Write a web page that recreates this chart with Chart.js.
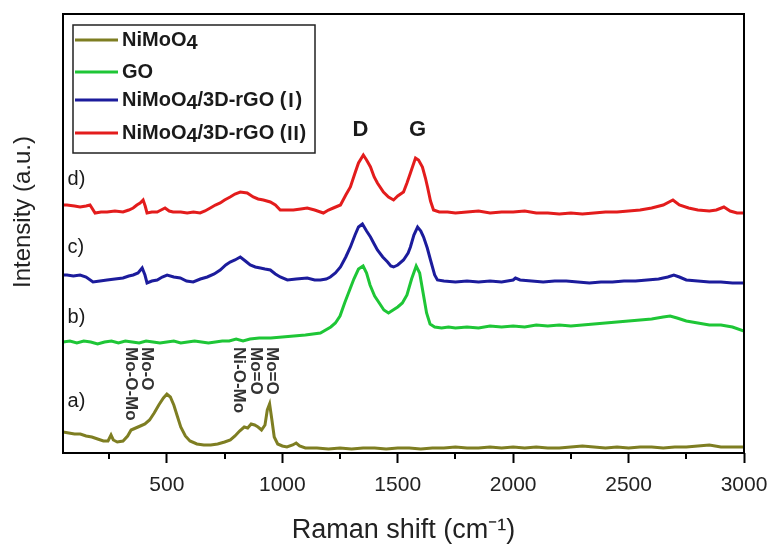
<!DOCTYPE html>
<html>
<head>
<meta charset="utf-8">
<title>Raman spectra</title>
<script src="https://cdn.jsdelivr.net/npm/chart.js@4.4.1/dist/chart.umd.min.js"></script>
<style>
    html, body { margin: 0; padding: 0; background: #fff; }
    canvas { display: block; }
</style>
</head>
<body>
<canvas id="ramanChart" width="773" height="544"></canvas>
<script>
// series names + colours (legend order)
const seriesNames = ['NiMoO4', 'GO', 'NiMoO4/3D-rGO (Ⅰ)', 'NiMoO4/3D-rGO (Ⅱ)'];
const seriesColors = ['#7e7e22', '#1ec636', '#1c1c9c', '#e31c1c'];

// a) NiMoO4
const shiftA = [50, 75, 100, 125, 150, 175, 200, 225, 245, 258, 268, 285, 310, 330, 345, 365, 385, 405, 425, 445,
    465, 485, 500, 515, 530, 545, 560, 580, 600, 630, 660, 690, 720, 750, 775, 795, 815, 835, 850, 865,
    880, 895, 910, 925, 935, 945, 955, 965, 980, 1000, 1020, 1045, 1060, 1075, 1100, 1150, 1200, 1250, 1300, 1350,
    1400, 1450, 1500, 1550, 1600, 1650, 1700, 1750, 1800, 1850, 1900, 1950, 2000, 2050, 2100, 2150, 2200, 2250, 2300, 2350,
    2400, 2450, 2500, 2550, 2600, 2650, 2700, 2750, 2800, 2850, 2900, 2950, 3000];
const intensityA = [21, 20, 19, 19, 17, 16, 14, 12, 12, 18, 13, 11, 12, 17, 23, 25, 27, 29, 33, 40,
    48, 55, 59, 56, 48, 37, 26, 17, 12, 9, 8, 8, 9, 11, 13, 17, 22, 26, 25, 29,
    28, 26, 23, 28, 43, 49, 33, 16, 9, 7, 6, 8, 10, 7, 5, 5, 4, 5, 4, 5,
    5, 4, 5, 5, 4, 5, 5, 6, 5, 5, 6, 5, 6, 5, 6, 5, 5, 6, 7, 6,
    5, 6, 5, 6, 6, 5, 6, 6, 7, 8, 6, 6, 6];

// b) GO
const shiftB = [50, 80, 110, 140, 170, 200, 230, 260, 290, 320, 350, 380, 410, 440, 470, 500, 530, 560, 590, 620,
    650, 680, 710, 740, 770, 800, 830, 860, 900, 950, 1000, 1050, 1100, 1165, 1210, 1230, 1250, 1270, 1290, 1310,
    1330, 1350, 1365, 1380, 1400, 1420, 1440, 1460, 1480, 1500, 1520, 1540, 1560, 1580, 1595, 1610, 1625, 1640, 1660, 1690,
    1720, 1750, 1800, 1850, 1900, 1950, 2000, 2050, 2100, 2150, 2200, 2250, 2300, 2350, 2400, 2450, 2500, 2550, 2600, 2650,
    2680, 2710, 2750, 2800, 2850, 2900, 2950, 3000];
const intensityB = [111, 112, 110, 112, 111, 109, 111, 112, 110, 112, 111, 110, 112, 111, 110, 111, 112, 110, 111, 112,
    111, 110, 111, 112, 112, 114, 112, 114, 115, 115, 116, 117, 118, 120, 126, 130, 137, 150, 162, 174,
    184, 187, 180, 168, 157, 150, 143, 140, 143, 146, 150, 158, 174, 187, 180, 160, 140, 129, 126, 125,
    126, 125, 126, 125, 127, 126, 127, 126, 128, 127, 128, 127, 128, 129, 130, 131, 132, 133, 134, 136,
    137, 135, 132, 130, 128, 128, 126, 122];

// c) NiMoO4/3D-rGO (I)
const shiftC = [50, 67, 95, 124, 150, 180, 210, 241, 275, 310, 335, 354, 375, 393, 405, 414, 435, 458, 480, 501,
    530, 558, 585, 614, 645, 675, 705, 731, 755, 774, 795, 818, 840, 861, 883, 905, 925, 948, 970, 991,
    1022, 1060, 1108, 1140, 1165, 1190, 1208, 1230, 1252, 1275, 1295, 1315, 1330, 1347, 1365, 1382, 1398, 1412, 1435, 1456,
    1470, 1482, 1500, 1525, 1545, 1555, 1570, 1586, 1600, 1612, 1628, 1642, 1660, 1672, 1700, 1750, 1800, 1850, 1900, 1950,
    2000, 2010, 2030, 2080, 2130, 2180, 2230, 2280, 2330, 2380, 2430, 2480, 2530, 2580, 2630, 2670, 2696, 2720, 2750, 2800,
    2850, 2900, 2950, 3000];
const intensityC = [178, 178, 177, 178, 176, 171, 172, 173, 174, 175, 177, 178, 180, 185, 178, 170, 172, 173, 176, 178,
    176, 175, 172, 171, 174, 176, 179, 183, 188, 191, 193, 196, 192, 188, 186, 185, 184, 183, 179, 176,
    173, 174, 175, 173, 173, 174, 176, 180, 186, 196, 206, 218, 226, 229, 222, 216, 209, 203, 196, 191,
    187, 186, 188, 193, 200, 206, 218, 226, 222, 216, 205, 193, 178, 173, 172, 171, 172, 171, 172, 171,
    173, 175, 173, 172, 171, 172, 172, 171, 170, 171, 171, 172, 172, 173, 174, 176, 178, 176, 173, 172,
    171, 171, 170, 170];

// d) NiMoO4/3D-rGO (II)
const shiftD = [50, 67, 100, 124, 150, 167, 189, 215, 241, 275, 310, 335, 354, 370, 384, 397, 406, 414, 435, 458,
    475, 492, 510, 527, 560, 588, 615, 644, 665, 688, 710, 731, 750, 774, 795, 818, 848, 874, 895, 918,
    948, 970, 991, 1020, 1048, 1080, 1108, 1140, 1178, 1200, 1221, 1252, 1275, 1295, 1315, 1330, 1351, 1365, 1382, 1398,
    1412, 1438, 1460, 1482, 1500, 1525, 1540, 1555, 1577, 1590, 1607, 1620, 1629, 1642, 1655, 1680, 1716, 1750, 1800, 1850,
    1900, 1950, 2000, 2050, 2100, 2150, 2200, 2250, 2300, 2350, 2400, 2450, 2500, 2550, 2600, 2650, 2692, 2720, 2760, 2800,
    2850, 2880, 2913, 2940, 2970, 3000];
const intensityD = [248, 248, 247, 246, 247, 248, 240, 241, 241, 242, 241, 243, 245, 248, 250, 253, 247, 240, 241, 241,
    243, 245, 242, 241, 241, 240, 241, 240, 242, 245, 248, 250, 253, 256, 259, 261, 260, 256, 254, 253,
    251, 248, 243, 243, 243, 244, 245, 243, 240, 243, 245, 248, 258, 266, 280, 290, 298, 293, 286, 276,
    270, 261, 256, 253, 257, 261, 270, 280, 295, 293, 286, 275, 266, 252, 243, 241, 241, 240, 241, 242,
    240, 241, 241, 242, 240, 240, 239, 240, 239, 240, 241, 241, 242, 243, 245, 248, 253, 248, 245, 243,
    242, 243, 246, 242, 240, 240];

const shifts = [shiftA, shiftB, shiftC, shiftD];
const intensities = [intensityA, intensityB, intensityC, intensityD];

// axis ticks
const majorTicks = [500, 1000, 1500, 2000, 2500, 3000];
const minorTicks = [250, 750, 1250, 1750, 2250, 2750];

// curve labels a) - d) and band labels
const curveTags = ['a)', 'b)', 'c)', 'd)'];
const curveTagX = [70, 70, 70, 70];
const curveTagY = [52, 136, 206, 274];
const bandTags = ['D', 'G'];
const bandTagX = [1338, 1586];
const bandTagY = [323, 323];
// vertical assignments for NiMoO4 peaks
const assignTags = ['Mo-O-Mo', 'Mo-O', 'Ni-O-Mo', 'Mo=O', 'Mo=O'];
const assignX = [345, 414, 809, 883, 952];
const assignTopY = 106;

const FONT = "'Liberation Sans', Arial, sans-serif";
const ROMAN_FONT = "'Noto Sans CJK SC', 'DejaVu Sans', sans-serif";
// full-width roman numerals carry wide side bearings, trim them
const romanTrim = { 'Ⅰ': 5, 'Ⅱ': 3 };

function toPoints(xs, ys) {
    return xs.map((x, i) => ({ x: x, y: ys[i] }));
}

// legend text: "4" dropped a little, roman numerals from the CJK font
function drawFormula(c, text, x, y) {
    let cx = x;
    for (const ch of text) {
        const trim = romanTrim[ch] || 0;
        c.font = trim ? 'bold 19px ' + ROMAN_FONT : 'bold 20px ' + FONT;
        const dy = ch === '4' ? 3 : 0;
        cx -= trim;
        c.fillText(ch, cx, y + dy);
        cx += c.measureText(ch).width - trim;
    }
}

const decorPlugin = {
    id: 'decor',
    afterDraw(chart) {
        const c = chart.ctx;
        const area = chart.chartArea;
        const xs = chart.scales.x;
        const ys = chart.scales.y;
        c.save();

        // frame round the plot
        c.strokeStyle = '#000';
        c.lineWidth = 2;
        c.strokeRect(area.left, area.top, area.right - area.left, area.bottom - area.top);

        // minor ticks
        c.beginPath();
        minorTicks.forEach(v => {
            const px = Math.round(xs.getPixelForValue(v));
            c.moveTo(px, area.bottom);
            c.lineTo(px, area.bottom + 6);
        });
        c.stroke();

        // y title (sits a bit above centre in the original)
        c.save();
        c.translate(23, 212);
        c.rotate(-Math.PI / 2);
        c.fillStyle = '#222';
        c.font = '24px ' + FONT;
        c.textAlign = 'center';
        c.textBaseline = 'middle';
        c.fillText('Intensity (a.u.)', 0, 0);
        c.restore();

        // legend
        c.lineWidth = 1.5;
        c.strokeStyle = '#222';
        c.strokeRect(73, 25, 242, 128);
        const rowY = [40, 72, 100, 133];
        c.textBaseline = 'middle';
        c.textAlign = 'left';
        chart.data.datasets.forEach((ds, i) => {
            c.strokeStyle = ds.borderColor;
            c.lineWidth = 3;
            c.beginPath();
            c.moveTo(75, rowY[i]);
            c.lineTo(118, rowY[i]);
            c.stroke();
            c.fillStyle = '#1a1a1a';
            drawFormula(c, ds.label, 122, rowY[i]);
        });

        // a) b) c) d)
        c.fillStyle = '#1a1a1a';
        c.font = '20px ' + FONT;
        curveTags.forEach((t, i) => {
            c.fillText(t, xs.getPixelForValue(curveTagX[i]), ys.getPixelForValue(curveTagY[i]));
        });

        // D and G bands
        c.font = 'bold 22px ' + FONT;
        c.textAlign = 'center';
        bandTags.forEach((t, i) => {
            c.fillText(t, xs.getPixelForValue(bandTagX[i]), ys.getPixelForValue(bandTagY[i]));
        });

        // rotated peak assignments
        c.font = 'bold 17px ' + FONT;
        c.fillStyle = '#333';
        c.textAlign = 'left';
        assignTags.forEach((t, i) => {
            c.save();
            c.translate(xs.getPixelForValue(assignX[i]), ys.getPixelForValue(assignTopY));
            c.rotate(Math.PI / 2);
            c.fillText(t, 0, 0);
            c.restore();
        });

        c.restore();
    }
};

const ctx = document.getElementById('ramanChart').getContext('2d');
new Chart(ctx, {
    type: 'line',
    data: {
        datasets: seriesNames.map((name, i) => ({
            label: name,
            data: toPoints(shifts[i], intensities[i]),
            borderColor: seriesColors[i],
            borderWidth: 3,
            pointRadius: 0,
            tension: 0,
            fill: false
        }))
    },
    options: {
        responsive: false,
        animation: false,
        layout: { padding: { top: 14, right: 29, left: 0, bottom: 0 } },
        scales: {
            x: {
                type: 'linear',
                min: 50,
                max: 3000,
                afterBuildTicks: scale => { scale.ticks = majorTicks.map(v => ({ value: v })); },
                // fixed axis band; drop the label overhang so the layout padding decides the right edge
                afterFit: scale => {
                    scale.height = 91;
                    scale.paddingLeft = 0;
                    scale.paddingRight = 0;
                },
                grid: { drawOnChartArea: false, drawTicks: true, tickLength: 10, tickWidth: 2, tickColor: '#000' },
                border: { display: false },
                ticks: {
                    padding: 10,
                    autoSkip: false,
                    maxRotation: 0,
                    color: '#222',
                    font: { size: 21, family: FONT },
                    callback: v => String(v)
                },
                title: {
                    display: true,
                    text: 'Raman shift (cm⁻¹)',
                    color: '#222',
                    font: { size: 27, family: FONT, lineHeight: 1 },
                    padding: 0
                }
            },
            y: {
                min: 0,
                max: 439,
                afterFit: scale => { scale.width = 63; },
                grid: { display: false },
                border: { display: false },
                ticks: { display: false }
            }
        },
        plugins: {
            legend: { display: false },
            tooltip: { enabled: false }
        }
    },
    plugins: [decorPlugin]
});
</script>
</body>
</html>
